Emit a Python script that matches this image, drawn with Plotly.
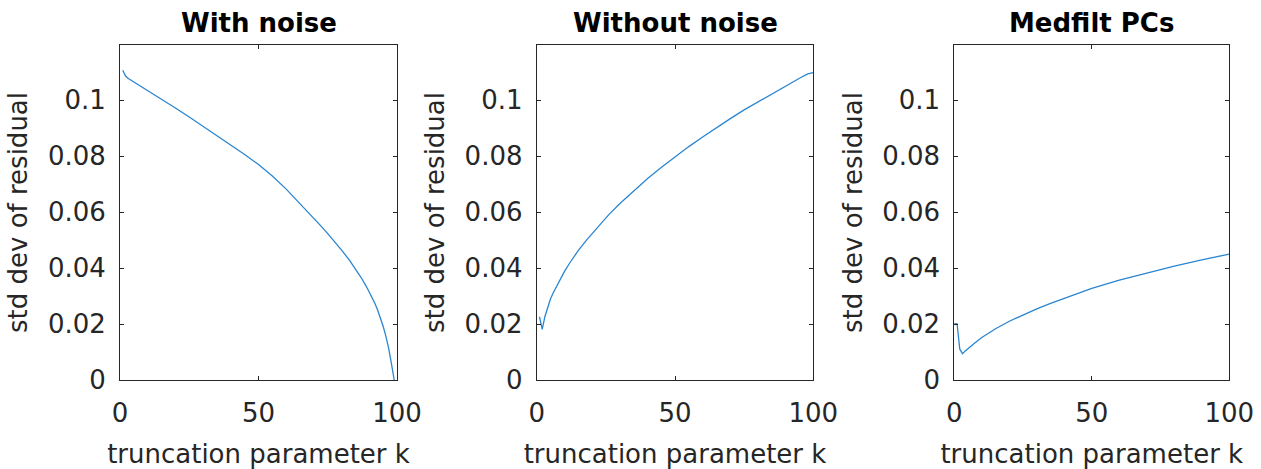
import plotly.graph_objects as go

# Residual standard deviation versus truncation parameter k, three cases
k_noise = [1, 2, 3, 5, 10, 15, 20, 25, 30, 35, 40, 45, 50, 55, 60, 65, 70, 72,
           75, 77, 80, 83, 85, 87, 89, 91, 92, 93, 94, 95, 96, 97, 98, 99]
std_noise = [0.1107, 0.1086, 0.1077, 0.1065, 0.1035, 0.1004, 0.0972, 0.0940,
             0.0907, 0.0874, 0.0840, 0.0806, 0.0770, 0.0729, 0.0682, 0.0631,
             0.0578, 0.0556, 0.0523, 0.0500, 0.0464, 0.0426, 0.0398, 0.0367,
             0.0333, 0.0295, 0.0274, 0.0250, 0.0223, 0.0192, 0.0156, 0.0113,
             0.0058, 0.0]

k_clean = [1, 2, 3, 4, 5, 6, 8, 10, 12, 15, 18, 22, 26, 30, 35, 40, 45, 50,
           55, 60, 65, 70, 75, 80, 85, 90, 95, 98, 99, 100]
std_clean = [0.0226, 0.0181, 0.0228, 0.0262, 0.0290, 0.0312, 0.0352, 0.0387,
             0.0419, 0.0462, 0.0500, 0.0547, 0.0590, 0.0630, 0.0676, 0.0719,
             0.0759, 0.0797, 0.0834, 0.0868, 0.0902, 0.0934, 0.0965, 0.0994,
             0.1023, 0.1051, 0.1078, 0.1094, 0.1097, 0.1098]

k_medfilt = [0, 1, 2, 3, 4, 5, 7, 10, 15, 20, 25, 30, 35, 40, 45, 50, 60, 70,
             80, 90, 100]
std_medfilt = [0.0202, 0.0201, 0.0110, 0.0094, 0.0104, 0.0113, 0.0129, 0.0152,
               0.0183, 0.0210, 0.0233, 0.0254, 0.0274, 0.0292, 0.0310, 0.0327,
               0.0357, 0.0383, 0.0407, 0.0429, 0.0450]

panel_titles = ["With noise", "Without noise", "Medfilt PCs"]
x_tick_vals = [0, 50, 100]
x_tick_text = ["0", "50", "100"]
y_tick_vals = [0, 0.02, 0.04, 0.06, 0.08, 0.1]
y_tick_text = ["0", "0.02", "0.04", "0.06", "0.08", "0.1"]
x_label = "truncation parameter k"
y_label = "std dev of residual"

W, H = 1261, 469
FONT = "DejaVu Sans"
AXIS_COLOR = "#262626"
LINE_COLOR = "#2a86d1"

# plot boxes in pixels: (left, right), shared top/bottom
boxes = [(120, 397), (536.7, 813.3), (954.3, 1229.3)]
top_px, bottom_px = 45, 380
y_dom = [1 - bottom_px / H, 1 - top_px / H]

series = [(k_noise, std_noise), (k_clean, std_clean), (k_medfilt, std_medfilt)]

fig = go.Figure()
for i, ((kx, sy), (l, r), title) in enumerate(zip(series, boxes, panel_titles)):
    n = "" if i == 0 else str(i + 1)
    fig.add_trace(go.Scatter(
        x=kx, y=sy, mode="lines",
        line=dict(color=LINE_COLOR, width=1.3),
        xaxis="x" + n, yaxis="y" + n, showlegend=False,
    ))
    common = dict(
        showline=True, linecolor=AXIS_COLOR, linewidth=1, mirror="ticks",
        ticks="inside", ticklen=4, tickwidth=1, tickcolor=AXIS_COLOR,
        showgrid=False, zeroline=False, automargin=False,
        tickfont=dict(family=FONT, size=26, color=AXIS_COLOR),
    )
    fig.layout["xaxis" + n] = dict(
        common, domain=[l / W, r / W], anchor="y" + n, range=[0, 100],
        tickvals=x_tick_vals, ticktext=x_tick_text, ticklabelstandoff=10,
        title=dict(text=x_label, standoff=23,
                   font=dict(family=FONT, size=26, color=AXIS_COLOR)),
    )
    fig.layout["yaxis" + n] = dict(
        common, domain=y_dom, anchor="x" + n, range=[0, 0.1197],
        tickvals=y_tick_vals, ticktext=y_tick_text, ticklabelstandoff=8,
        title=dict(text=y_label, standoff=12,
                   font=dict(family=FONT, size=26, color=AXIS_COLOR)),
    )
    fig.add_annotation(
        text="<b>" + title + "</b>", xref="paper", yref="paper",
        x=(l + r) / 2 / W, y=1 - 23 / H, xanchor="center", yanchor="middle",
        showarrow=False, font=dict(family=FONT, size=26, color="#000000"),
    )

fig.update_layout(
    width=W, height=H, margin=dict(l=0, r=0, t=0, b=0),
    paper_bgcolor="white", plot_bgcolor="white",
)
fig.write_html("out.html")
